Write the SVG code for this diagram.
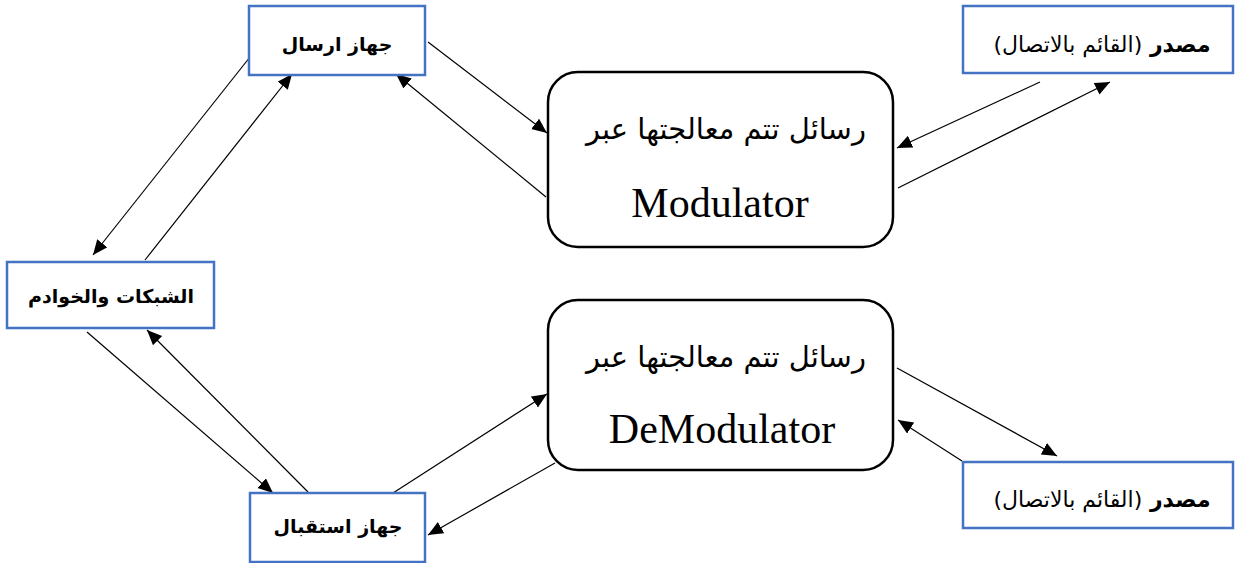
<svg xmlns="http://www.w3.org/2000/svg" width="1235" height="563" viewBox="0 0 1235 563">
<style>
.bx{fill:#fff;stroke:#4472C4;stroke-width:2.5}
.rb{fill:#fff;stroke:#000;stroke-width:2.5}
.lbl{font-family:"DejaVu Sans","Noto Sans",sans-serif;font-size:19px;font-weight:bold;fill:#000;text-anchor:middle}
.src{font-size:22px}
.nb{font-weight:normal}
.ar{font-family:"DejaVu Sans","Noto Sans",sans-serif;font-size:29px;fill:#000;text-anchor:middle}
.en{font-family:"Liberation Serif",serif;font-size:42px;fill:#000;text-anchor:middle}
.cn{stroke:#000;stroke-width:1.2;fill:none;marker-end:url(#ah)}
</style>
<defs>
<marker id="ah" markerUnits="userSpaceOnUse" markerWidth="16" markerHeight="14" refX="15" refY="6.5" orient="auto">
<path d="M0,0 L15,6.5 L0,13 z" fill="#000"/>
</marker>
</defs>
<rect width="1235" height="563" fill="#fff"/>
<g id="connectors">
<line class="cn" x1="428" y1="42" x2="547" y2="133"/>
<line class="cn" x1="546" y1="197" x2="396" y2="74"/>
<line class="cn" x1="1040" y1="82" x2="897" y2="148"/>
<line class="cn" x1="898" y1="188" x2="1110" y2="82"/>
<line class="cn" x1="250" y1="57" x2="93" y2="255"/>
<line class="cn" x1="145" y1="260" x2="292" y2="74"/>
<line class="cn" x1="87" y1="332" x2="273" y2="493"/>
<line class="cn" x1="308" y1="492" x2="147" y2="330"/>
<line class="cn" x1="393" y1="493" x2="547" y2="394"/>
<line class="cn" x1="555" y1="463" x2="428" y2="535"/>
<line class="cn" x1="897" y1="368" x2="1057" y2="456"/>
<line class="cn" x1="962" y1="461" x2="898" y2="420"/>
</g>
<g id="sender">
<rect class="bx" x="249" y="6" width="176" height="69"/>
<text class="lbl" x="337" y="51" direction="rtl">جهاز ارسال</text>
</g>
<g id="source-top">
<rect class="bx" x="963" y="6" width="270" height="67"/>
<text class="lbl src" x="1102" y="52" direction="rtl">مصدر <tspan class="nb">(القائم بالاتصال)</tspan></text>
</g>
<g id="networks">
<rect class="bx" x="7" y="262" width="207" height="66"/>
<text class="lbl" x="111" y="303" direction="rtl">الشبكات والخوادم</text>
</g>
<g id="receiver">
<rect class="bx" x="250" y="493" width="175" height="69"/>
<text class="lbl" x="338" y="533" direction="rtl">جهاز استقبال</text>
</g>
<g id="source-bottom">
<rect class="bx" x="963" y="462" width="270" height="66"/>
<text class="lbl src" x="1102" y="507" direction="rtl">مصدر <tspan class="nb">(القائم بالاتصال)</tspan></text>
</g>
<g id="modulator">
<rect class="rb" x="548" y="72" width="345" height="175" rx="30" ry="30"/>
<text class="ar" x="726" y="139" direction="rtl">رسائل تتم معالجتها عبر</text>
<text class="en" x="720" y="217">Modulator</text>
</g>
<g id="demodulator">
<rect class="rb" x="548" y="300" width="345" height="170" rx="30" ry="30"/>
<text class="ar" x="726" y="367" direction="rtl">رسائل تتم معالجتها عبر</text>
<text class="en" x="722" y="443">DeModulator</text>
</g>
</svg>
